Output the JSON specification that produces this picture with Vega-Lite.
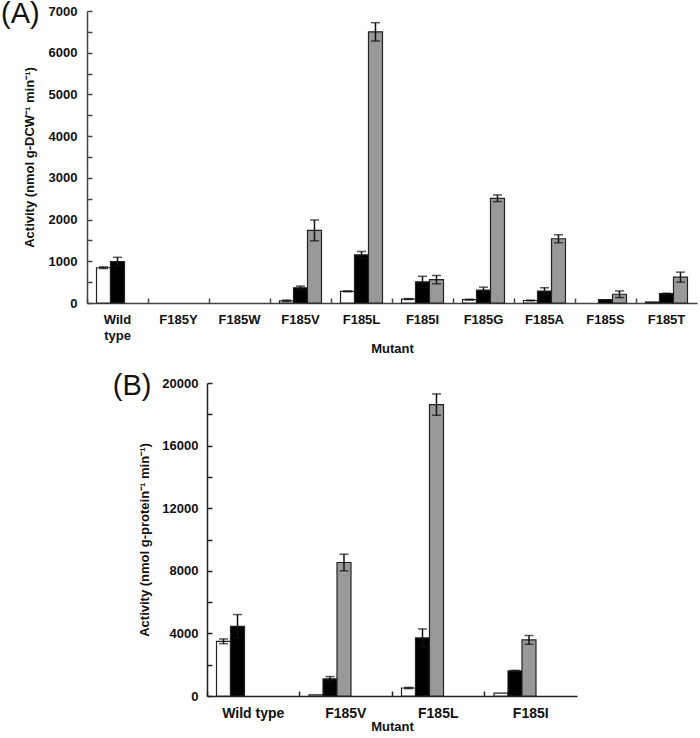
{
  "$schema": "https://vega.github.io/schema/vega-lite/v6.json",
  "background": "white",
  "padding": {"left": 1, "top": 0, "right": 2, "bottom": 0},
  "center": true,
  "spacing": 17,
  "config": {
    "view": {"stroke": null},
    "font": "Liberation Sans",
    "axis": {
      "labelFont": "Liberation Sans", "labelFontWeight": "bold", "labelColor": "#111", "labelFontSize": 13,
      "titleFont": "Liberation Sans", "titleFontWeight": "bold", "titleColor": "#111", "titleFontSize": 13,
      "grid": false, "domainColor": "#444", "tickColor": "#444", "domainWidth": 1.5, "tickWidth": 1.5
    },
    "title": {"font": "Liberation Sans", "fontWeight": "normal", "color": "#111", "anchor": "start", "frame": "bounds"}
  },
  "datasets": {
    "a": [
      {"mutant": "Wild type", "series": "S1", "value": 845, "lo": 825, "hi": 865},
      {"mutant": "Wild type", "series": "S2", "value": 995, "lo": 895, "hi": 1095},
      {"mutant": "F185V", "series": "S1", "value": 50, "lo": 35, "hi": 70},
      {"mutant": "F185V", "series": "S2", "value": 365, "lo": 325, "hi": 405},
      {"mutant": "F185V", "series": "S3", "value": 1740, "lo": 1490, "hi": 1990},
      {"mutant": "F185L", "series": "S1", "value": 280, "lo": 270, "hi": 290},
      {"mutant": "F185L", "series": "S2", "value": 1155, "lo": 1075, "hi": 1235},
      {"mutant": "F185L", "series": "S3", "value": 6500, "lo": 6280, "hi": 6720},
      {"mutant": "F185I", "series": "S1", "value": 95, "lo": 85, "hi": 105},
      {"mutant": "F185I", "series": "S2", "value": 505, "lo": 370, "hi": 640},
      {"mutant": "F185I", "series": "S3", "value": 560, "lo": 460, "hi": 660},
      {"mutant": "F185G", "series": "S1", "value": 80, "lo": 70, "hi": 90},
      {"mutant": "F185G", "series": "S2", "value": 310, "lo": 240, "hi": 380},
      {"mutant": "F185G", "series": "S3", "value": 2510, "lo": 2430, "hi": 2590},
      {"mutant": "F185A", "series": "S1", "value": 60, "lo": 50, "hi": 70},
      {"mutant": "F185A", "series": "S2", "value": 285, "lo": 205, "hi": 365},
      {"mutant": "F185A", "series": "S3", "value": 1540, "lo": 1445, "hi": 1635},
      {"mutant": "F185S", "series": "S2", "value": 80, "lo": 80, "hi": 80},
      {"mutant": "F185S", "series": "S3", "value": 210, "lo": 130, "hi": 290},
      {"mutant": "F185T", "series": "S1", "value": 25, "lo": 25, "hi": 25},
      {"mutant": "F185T", "series": "S2", "value": 225, "lo": 215, "hi": 235},
      {"mutant": "F185T", "series": "S3", "value": 620, "lo": 500, "hi": 740}
    ],
    "b": [
      {"mutant": "Wild type", "series": "S1", "value": 3495, "lo": 3345, "hi": 3645},
      {"mutant": "Wild type", "series": "S2", "value": 4455, "lo": 3705, "hi": 5205},
      {"mutant": "F185V", "series": "S1", "value": 80, "lo": 80, "hi": 80},
      {"mutant": "F185V", "series": "S2", "value": 1090, "lo": 940, "hi": 1240},
      {"mutant": "F185V", "series": "S3", "value": 8530, "lo": 8000, "hi": 9060},
      {"mutant": "F185L", "series": "S1", "value": 510, "lo": 470, "hi": 550},
      {"mutant": "F185L", "series": "S2", "value": 3710, "lo": 3135, "hi": 4285},
      {"mutant": "F185L", "series": "S3", "value": 18620, "lo": 17940, "hi": 19300},
      {"mutant": "F185I", "series": "S1", "value": 190, "lo": 190, "hi": 190},
      {"mutant": "F185I", "series": "S2", "value": 1600, "lo": 1560, "hi": 1640},
      {"mutant": "F185I", "series": "S3", "value": 3585, "lo": 3305, "hi": 3865}
    ]
  },
  "vconcat": [
    {
      "width": 610,
      "height": 292,
      "title": {"text": "(A)", "fontSize": 29, "dx": -22, "offset": -24},
      "data": {"name": "a"},
      "layer": [
        {
          "mark": {"type": "bar", "stroke": "#222", "strokeWidth": 1.2},
          "encoding": {
            "x": {
              "field": "mutant", "type": "nominal",
              "scale": {"domain": ["Wild type", "F185Y", "F185W", "F185V", "F185L", "F185I", "F185G", "F185A", "F185S", "F185T"], "paddingInner": 0, "paddingOuter": 0},
              "axis": {"orient": "bottom", "title": "Mutant", "ticks": false, "labelAngle": 0, "labelPadding": 10, "labelLineHeight": 16, "titlePadding": 0,
                       "labelExpr": "datum.value == 'Wild type' ? ['Wild', 'type'] : datum.label"}
            },
            "xOffset": {"field": "series", "type": "nominal", "scale": {"domain": ["S1", "S2", "S3"], "paddingInner": 0, "paddingOuter": 0.68}},
            "y": {
              "field": "value", "type": "quantitative",
              "scale": {"domain": [0, 7000], "nice": false},
              "axis": {"orient": "left", "title": "Activity (nmol g-DCW⁻¹ min⁻¹)", "values": [0, 1000, 2000, 3000, 4000, 5000, 6000, 7000],
                       "format": "d", "ticks": false, "labelPadding": 10, "titlePadding": 12}
            },
            "fill": {"field": "series", "type": "nominal", "scale": {"domain": ["S1", "S2", "S3"], "range": ["#ffffff", "#000000", "#999999"]}, "legend": null}
          }
        },
        {
          "transform": [{"filter": "datum.hi > datum.lo"}],
          "mark": {"type": "rule", "color": "#111", "strokeWidth": 1.5},
          "encoding": {
            "x": {"field": "mutant", "type": "nominal", "axis": {"orient": "bottom", "bandPosition": 0, "labels": false, "title": null, "domain": false, "ticks": true, "tickSize": -5}},
            "xOffset": {"field": "series", "type": "nominal"},
            "y": {"field": "lo", "type": "quantitative",
                  "axis": {"orient": "left", "values": [0, 500, 1000, 1500, 2000, 2500, 3000, 3500, 4000, 4500, 5000, 5500, 6000, 6500, 7000], "labels": false, "title": null, "domain": false, "ticks": true, "tickSize": -5}},
            "y2": {"field": "hi"}
          }
        },
        {
          "transform": [{"filter": "datum.hi > datum.lo"}],
          "mark": {"type": "tick", "color": "#111", "thickness": 1.5, "size": 9},
          "encoding": {
            "x": {"field": "mutant", "type": "nominal", "axis": null},
            "xOffset": {"field": "series", "type": "nominal"},
            "y": {"field": "hi", "type": "quantitative", "axis": null}
          }
        },
        {
          "transform": [{"filter": "datum.hi > datum.lo"}],
          "mark": {"type": "tick", "color": "#111", "thickness": 1.5, "size": 9},
          "encoding": {
            "x": {"field": "mutant", "type": "nominal", "axis": null},
            "xOffset": {"field": "series", "type": "nominal"},
            "y": {"field": "lo", "type": "quantitative", "axis": null}
          }
        }
      ],
      "resolve": {"axis": {"x": "independent", "y": "independent"}}
    },
    {
      "width": 370,
      "height": 313,
      "title": {"text": "(B)", "fontSize": 29, "dx": -26, "offset": -24},
      "data": {"name": "b"},
      "layer": [
        {
          "mark": {"type": "bar", "stroke": "#222", "strokeWidth": 1.2},
          "encoding": {
            "x": {
              "field": "mutant", "type": "nominal",
              "scale": {"domain": ["Wild type", "F185V", "F185L", "F185I"], "paddingInner": 0, "paddingOuter": 0},
              "axis": {"orient": "bottom", "title": "Mutant", "ticks": false, "labelAngle": 0, "labelPadding": 10, "titlePadding": 0, "labelFontSize": 14, "domainColor": "#222"}
            },
            "xOffset": {"field": "series", "type": "nominal", "scale": {"domain": ["S1", "S2", "S3"], "paddingInner": 0, "paddingOuter": 0.74}},
            "y": {
              "field": "value", "type": "quantitative",
              "scale": {"domain": [0, 20000], "nice": false},
              "axis": {"orient": "left", "title": "Activity (nmol g-protein⁻¹ min⁻¹)", "values": [0, 4000, 8000, 12000, 16000, 20000],
                       "format": "d", "ticks": false, "labelPadding": 9, "titlePadding": 10, "domainColor": "#222"}
            },
            "fill": {"field": "series", "type": "nominal", "scale": {"domain": ["S1", "S2", "S3"], "range": ["#ffffff", "#000000", "#999999"]}, "legend": null}
          }
        },
        {
          "transform": [{"filter": "datum.hi > datum.lo"}],
          "mark": {"type": "rule", "color": "#111", "strokeWidth": 1.5},
          "encoding": {
            "x": {"field": "mutant", "type": "nominal", "axis": {"orient": "bottom", "bandPosition": 0, "labels": false, "title": null, "domain": false, "ticks": true, "tickSize": -5, "tickColor": "#222"}},
            "xOffset": {"field": "series", "type": "nominal"},
            "y": {"field": "lo", "type": "quantitative",
                  "axis": {"orient": "left", "values": [0, 2000, 4000, 6000, 8000, 10000, 12000, 14000, 16000, 18000, 20000], "labels": false, "title": null, "domain": false, "ticks": true, "tickSize": -5, "tickColor": "#222"}},
            "y2": {"field": "hi"}
          }
        },
        {
          "transform": [{"filter": "datum.hi > datum.lo"}],
          "mark": {"type": "tick", "color": "#111", "thickness": 1.5, "size": 9},
          "encoding": {
            "x": {"field": "mutant", "type": "nominal", "axis": null},
            "xOffset": {"field": "series", "type": "nominal"},
            "y": {"field": "hi", "type": "quantitative", "axis": null}
          }
        },
        {
          "transform": [{"filter": "datum.hi > datum.lo"}],
          "mark": {"type": "tick", "color": "#111", "thickness": 1.5, "size": 9},
          "encoding": {
            "x": {"field": "mutant", "type": "nominal", "axis": null},
            "xOffset": {"field": "series", "type": "nominal"},
            "y": {"field": "lo", "type": "quantitative", "axis": null}
          }
        }
      ],
      "resolve": {"axis": {"x": "independent", "y": "independent"}}
    }
  ]
}
